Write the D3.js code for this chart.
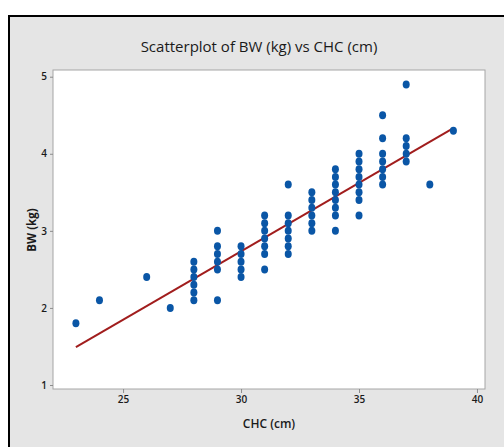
<!DOCTYPE html>
<html>
<head>
<meta charset="utf-8">
<script src="https://cdn.jsdelivr.net/npm/d3@7"></script>
<style>
  body { margin: 0; background: #fff; }
  svg { display: block; }
  text { font-family: "Open Sans", "Noto Sans", sans-serif; fill: #1a1a1a; }
</style>
</head>
<body>
<script>
const width = 504;
const height = 447;

// CHC (cm) and BW (kg) pairs
const chc = [23, 24, 26, 27,
  28, 28, 28, 28, 28, 28,
  29, 29, 29, 29, 29, 29,
  30, 30, 30, 30, 30,
  31, 31, 31, 31, 31, 31, 31,
  32, 32, 32, 32, 32, 32, 32,
  33, 33, 33, 33, 33, 33,
  34, 34, 34, 34, 34, 34, 34, 34,
  35, 35, 35, 35, 35, 35, 35, 35,
  36, 36, 36, 36, 36, 36, 36,
  37, 37, 37, 37, 37,
  38, 39];
const bw = [1.8, 2.1, 2.4, 2.0,
  2.1, 2.2, 2.3, 2.4, 2.5, 2.6,
  2.1, 2.5, 2.6, 2.7, 2.8, 3.0,
  2.4, 2.5, 2.6, 2.7, 2.8,
  2.5, 2.7, 2.8, 2.9, 3.0, 3.1, 3.2,
  2.7, 2.8, 2.9, 3.0, 3.1, 3.2, 3.6,
  3.0, 3.1, 3.2, 3.3, 3.4, 3.5,
  3.0, 3.2, 3.3, 3.4, 3.5, 3.6, 3.7, 3.8,
  3.2, 3.4, 3.5, 3.6, 3.7, 3.8, 3.9, 4.0,
  3.6, 3.7, 3.8, 3.9, 4.0, 4.2, 4.5,
  3.9, 4.0, 4.1, 4.2, 4.9,
  3.6, 4.3];

// fitted line
const fitIntercept = -2.59;
const fitSlope = 0.1775;

const xTicks = [25, 30, 35, 40];
const yTicks = [1, 2, 3, 4, 5];

const plot = {left: 53, top: 70, right: 485, bottom: 389};

const svg = d3.select('body')
  .append('svg')
  .attr('width', width)
  .attr('height', height);

// grey graph panel with black frame
svg.append('rect')
  .attr('x', 9).attr('y', 16)
  .attr('width', width + 10).attr('height', height + 10)
  .attr('fill', '#e5e5e5')
  .attr('stroke', '#000')
  .attr('stroke-width', 2);

svg.append('rect')
  .attr('x', plot.left).attr('y', plot.top)
  .attr('width', plot.right - plot.left)
  .attr('height', plot.bottom - plot.top)
  .attr('fill', '#fff')
  .attr('stroke', '#a6a6a6')
  .attr('stroke-width', 1);

const x = d3.scaleLinear().domain([22.03, 40.34]).range([plot.left, plot.right]);
const y = d3.scaleLinear().domain([0.948, 5.087]).range([plot.bottom, plot.top]);

// axes
const xAxis = svg.append('g')
  .attr('transform', `translate(0,${plot.bottom})`)
  .call(d3.axisBottom(x).tickValues(xTicks).tickFormat(d3.format('d')).tickSize(4).tickPadding(3));
const yAxis = svg.append('g')
  .attr('transform', `translate(${plot.left},0)`)
  .call(d3.axisLeft(y).tickValues(yTicks).tickFormat(d3.format('d')).tickSize(3).tickPadding(3));

[xAxis, yAxis].forEach(g => {
  g.select('.domain').remove();
  g.selectAll('.tick line').attr('stroke', '#8c8c8c');
  g.selectAll('.tick text')
    .style('font-family', '"Open Sans", sans-serif')
    .style('font-size', '10px')
    .style('font-weight', 600)
    .attr('fill', '#1a1a1a');
});

// fitted line
svg.append('line')
  .attr('x1', x(23)).attr('y1', y(fitIntercept + fitSlope * 23))
  .attr('x2', x(39)).attr('y2', y(fitIntercept + fitSlope * 39))
  .attr('stroke', '#a11d1d')
  .attr('stroke-width', 2);

// points
svg.append('g')
  .selectAll('ellipse')
  .data(chc.map((c, i) => ({c: c, w: bw[i]})))
  .enter()
  .append('ellipse')
  .attr('cx', d => x(d.c))
  .attr('cy', d => y(d.w))
  .attr('rx', 3.5)
  .attr('ry', 4)
  .attr('fill', '#0a56a6');

// titles
svg.append('text')
  .text('Scatterplot of BW (kg) vs CHC (cm)')
  .attr('x', 259)
  .attr('y', 52)
  .attr('text-anchor', 'middle')
  .style('font-size', '15px')
  .style('font-weight', 500);

svg.append('text')
  .text('CHC (cm)')
  .attr('x', 269)
  .attr('y', 428)
  .attr('text-anchor', 'middle')
  .style('font-size', '12px')
  .style('font-weight', 600);

svg.append('text')
  .text('BW (kg)')
  .attr('transform', 'translate(36,230) rotate(-90)')
  .attr('text-anchor', 'middle')
  .style('font-size', '11.5px')
  .style('font-weight', 700);
</script>
</body>
</html>
